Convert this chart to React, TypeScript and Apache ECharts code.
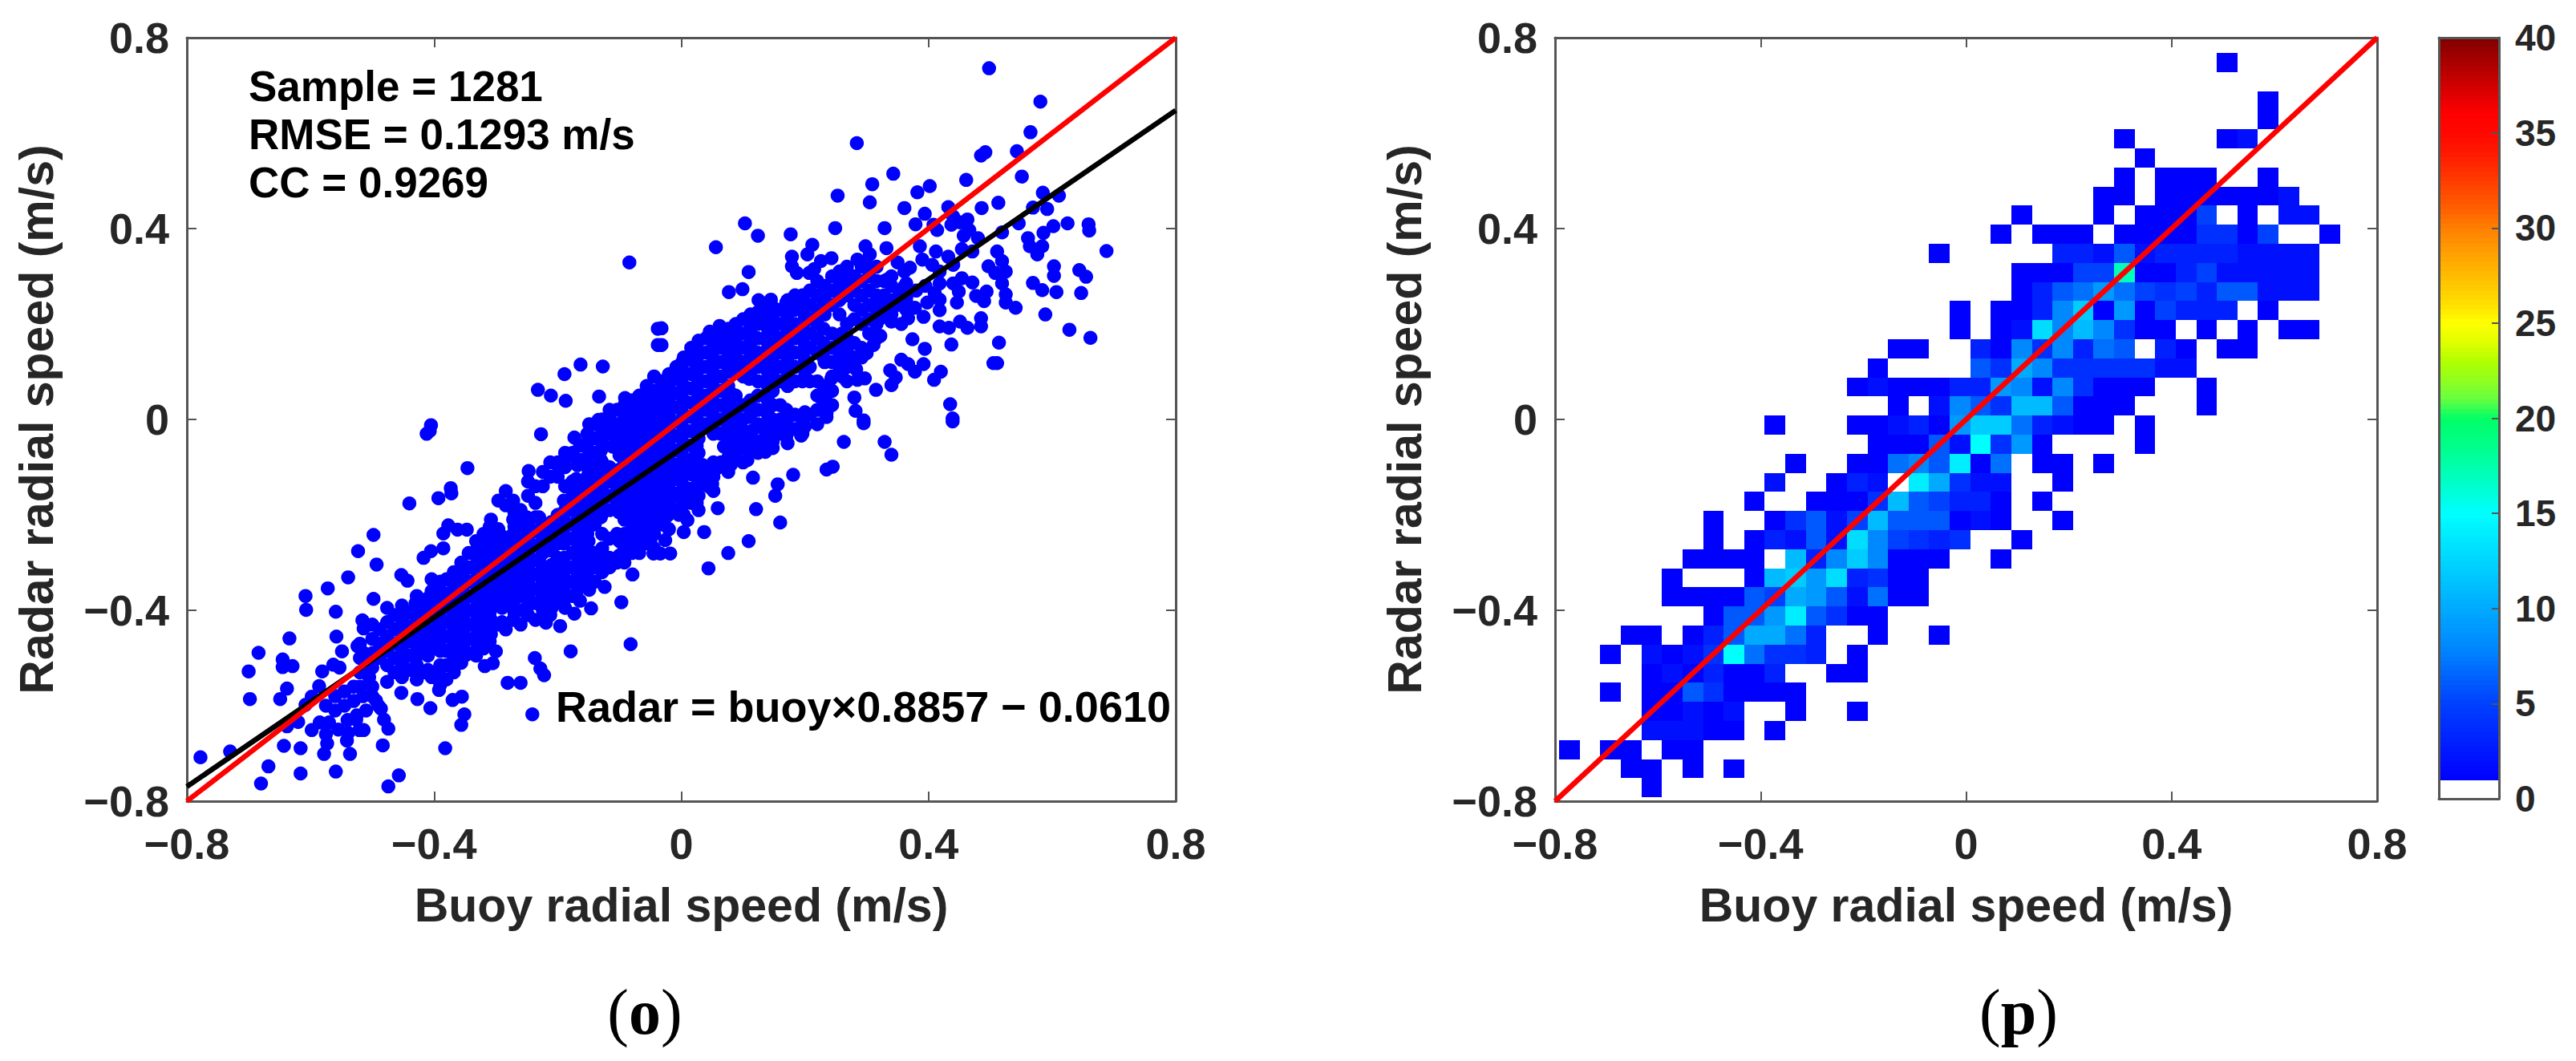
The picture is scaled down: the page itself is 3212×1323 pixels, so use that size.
import React, { useEffect, useRef } from "react";
import * as echarts from "echarts";

// ---------- tick labels / fit lines ----------
const speedTicks = ["−0.8", "−0.4", "0", "0.4", "0.8"];
const colorTicks = [0, 5, 10, 15, 20, 25, 30, 35, 40];
const identityLine = [[-0.8, -0.8], [0.8, 0.8]];
const fitLine = [[-0.8, -0.7696], [0.8, 0.6476]];
const statsLines = ["Sample = 1281", "RMSE = 0.1293 m/s", "CC = 0.9269"];
const fitEquation = "Radar = buoy×0.8857 − 0.0610";

// ---------- left panel: scattered points ----------
const scatterUpper = [
  [-0.084,0.329],[-0.232,0.062],[-0.211,0.05],[-0.187,0.039],[-0.189,0.095],[-0.163,0.115],[-0.127,0.111],[-0.133,0.048],
  [-0.091,0.045],[-0.087,0.021],[-0.074,0.004],[-0.134,-0.001],[-0.149,-0.01],[-0.112,-0.01],[-0.05,0.044],[-0.052,0.021],[-0.042,0.007],
  [-0.038,0.19],[-0.038,0.156],[-0.032,0.191],[-0.032,0.156],
  [0.498,0.736],[0.581,0.666],[0.565,0.602],[0.543,0.562],[0.492,0.56],[0.485,0.553],[0.551,0.509],[0.284,0.579],[0.343,0.515],[0.461,0.502],
  [0.309,0.493],[0.253,0.469],[0.305,0.455],[0.402,0.489],[0.382,0.476],[0.361,0.443],[0.394,0.431],[0.432,0.445],[0.486,0.443],[0.513,0.454],
  [0.585,0.475],[0.611,0.469],[0.592,0.441],[0.569,0.444],[0.546,0.411],[0.625,0.411],[0.602,0.405],[0.659,0.409],[0.66,0.396],[0.688,0.353],
  [0.519,0.392],[0.103,0.411],[0.124,0.385],[0.056,0.361],[0.177,0.388],[0.249,0.401],[0.329,0.401],[0.379,0.409],[0.408,0.408],[0.414,0.397],
  [0.44,0.425],[0.451,0.413],[0.463,0.419],[0.437,0.408],[0.457,0.385],[0.48,0.38],[0.466,0.397],[0.386,0.363],[0.332,0.359],[0.212,0.366],
  [0.298,0.363],[0.305,0.346],[0.285,0.335],[0.3,0.324],[0.243,0.338],[0.226,0.332],[0.215,0.315],[0.204,0.346],[0.179,0.341],[0.179,0.321],
  [0.187,0.307],[0.207,0.307],[0.109,0.309],[0.099,0.273],[0.077,0.267],[0.257,0.31],[0.271,0.299],[0.35,0.329],[0.361,0.31],[0.37,0.318],
  [0.39,0.335],[0.412,0.352],[0.406,0.324],[0.432,0.341],[0.418,0.31],[0.44,0.324],[0.454,0.357],[0.471,0.352],[0.333,0.293],[0.497,0.321],
  [0.511,0.352],[0.519,0.332],[0.525,0.31],[0.508,0.307],[0.519,0.285],[0.561,0.38],[0.564,0.363],[0.586,0.391],[0.584,0.363],[0.576,0.346],
  [0.603,0.321],[0.603,0.301],[0.644,0.313],[0.655,0.299],[0.647,0.265],[0.569,0.286],[0.584,0.271],[0.607,0.267],[0.589,0.22],[0.628,0.188],
  [0.662,0.171],[0.514,0.161],[0.511,0.118],[0.505,0.118],[0.437,0.157],[0.394,0.148],[0.374,0.168],[0.485,0.195],[0.485,0.212],[0.463,0.192],
  [0.451,0.205],[0.433,0.192],[0.418,0.195],[0.541,0.234],[0.525,0.245],[0.525,0.262],[0.494,0.268],[0.477,0.259],[0.49,0.248],[0.471,0.287],
  [0.454,0.296],[0.44,0.285],[0.418,0.285],[0.449,0.268],[0.446,0.245],[0.418,0.251],[0.418,0.229],[0.398,0.245],[0.392,0.215],[0.367,0.212],
  [0.356,0.2],[0.364,0.245],[0.378,0.234],[0.361,0.279],[0.353,0.268],[0.356,0.125],[0.378,0.1],[0.392,0.116],[0.367,0.116],[0.338,0.103],
  [0.347,0.088],[0.34,0.072],[0.315,0.062],[0.42,0.1],[0.409,0.083],[0.297,0.086],[0.285,0.083],[0.283,0.105],[0.28,0.046],[0.282,0.018],
  [0.295,-0.002],[0.435,0.032],[0.439,0.002],[0.235,0.013],[0.233,0.045],[0.243,0.086],[0.322,0.175],[0.311,0.156],[0.3,0.139],[0.322,0.212],
  [0.066,0.161],[0.062,0.196],[0.046,0.184],[0.052,0.119],[0.021,0.121],[0.001,0.119],[-0.003,0.09],[0.125,0.25],[0.145,0.251],[0.148,0.231],
  [0.187,0.248],[0.17,0.245],[0.325,0.25],[0.34,0.205],[0.35,0.24],[0.38,0.27],[0.395,0.28],[0.41,0.265],
];
const scatterLower = [
  [-0.405,-0.012],[-0.407,-0.024],[-0.412,-0.03],[-0.227,-0.031],[-0.173,-0.038],[-0.44,-0.176],[-0.393,-0.165],[-0.373,-0.144],[-0.372,-0.155],
  [-0.346,-0.102],[-0.247,-0.108],[-0.498,-0.242],[-0.523,-0.276],[-0.493,-0.304],[-0.539,-0.331],[-0.572,-0.354],[-0.608,-0.37],[-0.607,-0.399],
  [-0.559,-0.403],[-0.498,-0.376],[-0.453,-0.326],[-0.443,-0.338],[-0.417,-0.29],[-0.405,-0.276],[-0.385,-0.27],[-0.377,-0.222],[-0.385,-0.239],
  [-0.347,-0.231],[-0.362,-0.231],[-0.516,-0.421],[-0.514,-0.438],[-0.558,-0.455],[-0.634,-0.459],[-0.684,-0.489],[-0.7,-0.528],[-0.645,-0.503],
  [-0.645,-0.519],[-0.629,-0.517],[-0.638,-0.564],[-0.649,-0.586],[-0.698,-0.586],[-0.549,-0.486],[-0.524,-0.475],[-0.514,-0.489],[-0.581,-0.528],
  [-0.563,-0.514],[-0.553,-0.52],[-0.586,-0.559],[-0.598,-0.581],[-0.608,-0.598],[-0.62,-0.634],[-0.638,-0.643],[-0.598,-0.651],[-0.643,-0.684],
  [-0.616,-0.689],[-0.578,-0.701],[-0.573,-0.679],[-0.778,-0.708],[-0.73,-0.696],[-0.668,-0.727],[-0.616,-0.742],[-0.559,-0.738],[-0.68,-0.763],
  [-0.457,-0.746],[-0.474,-0.769],[-0.483,-0.683],[-0.382,-0.689],[-0.536,-0.701],[-0.541,-0.673],[-0.539,-0.657],[-0.521,-0.651],[-0.514,-0.651],
  [-0.526,-0.629],[-0.474,-0.648],[-0.481,-0.629],[-0.486,-0.606],[-0.494,-0.589],[-0.453,-0.573],[-0.427,-0.586],[-0.406,-0.605],[-0.392,-0.567],
  [-0.39,-0.556],[-0.37,-0.588],[-0.355,-0.581],[-0.351,-0.618],[-0.356,-0.64],[-0.241,-0.618],[-0.281,-0.552],[-0.26,-0.552],[-0.237,-0.5],
  [-0.228,-0.522],[-0.222,-0.536],[-0.179,-0.486],[-0.082,-0.471],[-0.097,-0.383],[-0.196,-0.433],[-0.219,-0.426],[-0.173,-0.407],[-0.146,-0.396],
  [-0.124,-0.351],[-0.149,-0.357],[-0.156,-0.337],[-0.079,-0.325],[-0.045,-0.281],[-0.3,-0.486],[-0.315,-0.455],[-0.305,-0.511],[-0.318,-0.517],
  [0.295,-0.008],[0.439,-0.004],[0.263,-0.047],[0.329,-0.047],[0.34,-0.074],[0.235,-0.105],[0.245,-0.099],[0.181,-0.116],[0.156,-0.136],[0.152,-0.16],
  [0.116,-0.122],[0.059,-0.186],[0.121,-0.188],[0.16,-0.216],[0.109,-0.255],[0.076,-0.28],[0.044,-0.312],[0.037,-0.236],[0.013,-0.146],[0.01,-0.161],
  [-0.012,-0.161],[0.004,-0.236],[0.01,-0.211],[-0.004,-0.2],[-0.021,-0.2],[-0.035,-0.214],[-0.026,-0.253],[-0.018,-0.281],[-0.034,-0.281],[0.045,-0.141],
  [0.046,-0.113],[0.058,-0.102],[0.035,-0.096],[0.013,-0.091],[0.024,-0.068],[-0.01,-0.108],[-0.021,-0.125],[-0.032,-0.141],[0.084,-0.088],[0.107,-0.085],
  [0.094,-0.057],[0.136,-0.068],[0.069,-0.057],[0.063,-0.029],[0.194,-0.034],[0.17,-0.024],[0.148,-0.046],[0.125,-0.046],[0.114,-0.024],[0.097,-0.018],
  [0.088,-0.007],[0.131,-0.018],[0.156,-0.004],[0.198,-0.001],[0.235,0.005],
  [-0.575,-0.6],[-0.56,-0.58],[-0.56,-0.61],[-0.545,-0.57],[-0.545,-0.6],[-0.54,-0.63],[-0.53,-0.56],[-0.53,-0.59],[-0.525,-0.62],[-0.515,-0.58],
  [-0.57,-0.635],[-0.555,-0.65],[-0.585,-0.635],[-0.575,-0.66],[-0.51,-0.61],[-0.505,-0.54],[-0.49,-0.6],[-0.5,-0.58],[-0.52,-0.56],[-0.52,-0.53],[-0.52,-0.5],[-0.52,-0.47],
  [-0.153,-0.049],[-0.185,-0.079],[-0.198,-0.102],[-0.168,-0.096],[-0.142,-0.113],[-0.111,-0.057],[-0.094,-0.043],[-0.073,-0.043],[-0.086,-0.063],
];
// Dense band, column by column: first number is the buoy speed, the rest radar speeds.
const bandColumns = [
  [-0.5,-0.56,-0.52,-0.49,-0.46,-0.43],[-0.476,-0.55,-0.515,-0.485,-0.455,-0.425,-0.395],[-0.452,-0.54,-0.51,-0.48,-0.45,-0.42,-0.39],
  [-0.428,-0.545,-0.515,-0.485,-0.455,-0.425,-0.395,-0.37],[-0.404,-0.54,-0.48,-0.45,-0.42,-0.39,-0.36,-0.335],[-0.38,-0.545,-0.515,-0.485,-0.455,-0.425,-0.395,-0.365,-0.335],
  [-0.356,-0.51,-0.48,-0.45,-0.42,-0.39,-0.36,-0.33,-0.3],[-0.332,-0.495,-0.465,-0.435,-0.405,-0.375,-0.345,-0.315,-0.285,-0.255],[-0.308,-0.45,-0.42,-0.39,-0.36,-0.33,-0.3,-0.27,-0.24,-0.21],
  [-0.284,-0.44,-0.37,-0.34,-0.31,-0.28,-0.25,-0.18,-0.15],[-0.26,-0.43,-0.4,-0.37,-0.34,-0.31,-0.28,-0.25,-0.22,-0.19],[-0.236,-0.42,-0.385,-0.355,-0.325,-0.295,-0.265,-0.235,-0.205,-0.175,-0.14],
  [-0.212,-0.41,-0.38,-0.35,-0.32,-0.26,-0.23,-0.12,-0.09],[-0.188,-0.395,-0.365,-0.335,-0.305,-0.25,-0.22,-0.19,-0.14,-0.1,-0.07],[-0.164,-0.38,-0.35,-0.32,-0.29,-0.26,-0.23,-0.2,-0.17,-0.14,-0.085,-0.055],
  [-0.14,-0.34,-0.31,-0.28,-0.22,-0.19,-0.16,-0.13,-0.1,-0.07,-0.04,-0.01],[-0.116,-0.31,-0.29,-0.25,-0.19,-0.16,-0.13,-0.1,-0.03,0,0.02],[-0.092,-0.3,-0.27,-0.24,-0.21,-0.18,-0.15,-0.12,-0.09,-0.06,-0.03,0,0.03],
  [-0.068,-0.28,-0.25,-0.22,-0.19,-0.16,-0.13,-0.1,-0.07,-0.04,-0.01,0.02,0.05],[-0.044,-0.27,-0.24,-0.21,-0.18,-0.15,-0.12,-0.09,-0.06,-0.03,0,0.03,0.06,0.09],[-0.02,-0.23,-0.175,-0.145,-0.115,-0.085,-0.055,-0.025,0.005,0.035,0.065,0.095],
  [0.004,-0.2,-0.17,-0.14,-0.11,-0.08,-0.05,-0.02,0.01,0.04,0.07,0.1,0.13],[0.028,-0.19,-0.16,-0.13,-0.1,-0.07,-0.04,-0.01,0.02,0.05,0.08,0.11,0.14,0.165],[0.052,-0.15,-0.12,-0.09,-0.03,0,0.03,0.06,0.09,0.12,0.15,0.18],
  [0.076,-0.11,-0.08,-0.05,-0.02,0.01,0.04,0.07,0.1,0.13,0.16,0.19],[0.1,-0.09,-0.06,-0.03,0,0.03,0.09,0.12,0.15,0.18,0.21],[0.124,-0.07,-0.01,0.02,0.05,0.08,0.11,0.14,0.17,0.2,0.225],
  [0.148,-0.06,-0.03,0,0.03,0.06,0.09,0.12,0.15,0.18,0.21,0.235],[0.172,-0.05,-0.02,0.01,0.07,0.1,0.13,0.16,0.19,0.22,0.25],[0.196,-0.03,0,0.08,0.11,0.14,0.17,0.2,0.23,0.26],
  [0.22,-0.01,0.02,0.05,0.08,0.14,0.17,0.2,0.23,0.26,0.29],[0.244,0.03,0.06,0.09,0.12,0.15,0.18,0.24,0.27,0.3],[0.268,0.08,0.11,0.14,0.17,0.2,0.26,0.29,0.32],
  [0.292,0.13,0.15,0.2,0.23,0.26,0.29,0.32],[0.316,0.17,0.2,0.23,0.26,0.29,0.32],[0.34,0.22,0.25,0.28,0.3],[0.364,0.23,0.255,0.285],
];
// Points between those columns, where the band is solid.
const bandInfill = [
  [-0.488,-0.5,-0.47,-0.44],[-0.464,-0.53,-0.5,-0.47,-0.44,-0.41],[-0.44,-0.525,-0.495,-0.465,-0.435,-0.405],[-0.416,-0.53,-0.47,-0.44,-0.41,-0.38],
  [-0.392,-0.53,-0.47,-0.44,-0.41,-0.38,-0.35],[-0.368,-0.53,-0.5,-0.47,-0.44,-0.41,-0.38,-0.35,-0.32],[-0.344,-0.49,-0.46,-0.43,-0.4,-0.37,-0.34,-0.31,-0.28],
  [-0.32,-0.48,-0.45,-0.42,-0.39,-0.36,-0.33,-0.3,-0.27,-0.24],[-0.296,-0.43,-0.38,-0.35,-0.32,-0.29,-0.26,-0.23,-0.17],[-0.272,-0.42,-0.39,-0.36,-0.33,-0.3,-0.27,-0.24,-0.21,-0.17],
  [-0.248,-0.41,-0.37,-0.34,-0.31,-0.28,-0.25,-0.22,-0.16,-0.13],[-0.224,-0.4,-0.37,-0.34,-0.31,-0.28,-0.25,-0.22,-0.14,-0.11],[-0.2,-0.38,-0.35,-0.32,-0.29,-0.26,-0.23,-0.2,-0.12,-0.09],
  [-0.176,-0.37,-0.34,-0.31,-0.28,-0.25,-0.22,-0.19,-0.16,-0.13,-0.07],[-0.152,-0.33,-0.3,-0.27,-0.24,-0.21,-0.18,-0.15,-0.12,-0.09,-0.06,-0.03],[-0.128,-0.32,-0.27,-0.24,-0.18,-0.15,-0.12,-0.09,-0.05,-0.02,0],
  [-0.104,-0.3,-0.24,-0.18,-0.15,-0.12,-0.03,-0.01,0.02],[-0.08,-0.28,-0.25,-0.22,-0.19,-0.16,-0.13,-0.1,-0.07,-0.04,-0.01,0.02,0.04],[-0.056,-0.26,-0.23,-0.2,-0.17,-0.14,-0.11,-0.08,-0.05,-0.02,0.01,0.04,0.07],
  [-0.032,-0.22,-0.19,-0.16,-0.13,-0.1,-0.07,-0.04,-0.01,0.02,0.05,0.08],[-0.008,-0.19,-0.155,-0.125,-0.095,-0.065,-0.035,-0.005,0.025,0.055,0.085,0.11],[0.016,-0.175,-0.145,-0.115,-0.085,-0.055,-0.025,0.005,0.035,0.065,0.095,0.125,0.15],
  [0.04,-0.13,-0.1,-0.01,0.02,0.05,0.08,0.11,0.14,0.17],[0.064,-0.09,-0.03,0,0.03,0.06,0.09,0.12,0.15,0.18],[0.088,-0.07,-0.04,-0.01,0.02,0.05,0.1,0.13,0.16,0.19,0.2],
  [0.112,-0.05,0.01,0.04,0.1,0.13,0.16,0.19,0.22],[0.136,-0.04,-0.01,0.02,0.05,0.08,0.11,0.14,0.17,0.2,0.23],[0.16,-0.03,0,0.03,0.08,0.11,0.14,0.17,0.2,0.23],
  [0.184,-0.02,0.01,0.08,0.11,0.14,0.17,0.2,0.23,0.26],[0.208,0.01,0.08,0.11,0.15,0.18,0.21,0.24,0.27],[0.232,0.07,0.12,0.15,0.22,0.25,0.28],
  [0.256,0.1,0.13,0.16,0.22,0.25,0.28,0.31],[0.28,0.13,0.16,0.21,0.24,0.27,0.3],[0.304,0.18,0.21,0.24,0.27,0.3],[0.328,0.23,0.26,0.29],
];
// Extra points in the solid core of the band, staggered against the two lists above.
const bandCore = [
  [-0.45,-0.525,-0.5,-0.465,-0.44,-0.405],[-0.43,-0.53,-0.5,-0.47,-0.44,-0.41,-0.385],[-0.41,-0.525,-0.495,-0.465,-0.435,-0.405,-0.375],
  [-0.39,-0.515,-0.485,-0.455,-0.425,-0.395,-0.365,-0.34],[-0.37,-0.515,-0.485,-0.455,-0.425,-0.395,-0.365,-0.335],[-0.35,-0.495,-0.465,-0.435,-0.405,-0.375,-0.345,-0.315],
  [-0.33,-0.48,-0.45,-0.42,-0.39,-0.36,-0.33,-0.3,-0.27],[-0.31,-0.465,-0.435,-0.405,-0.375,-0.345,-0.315,-0.285,-0.255,-0.225],[-0.29,-0.425,-0.395,-0.365,-0.335,-0.305,-0.275,-0.245],
  [-0.27,-0.405,-0.375,-0.345,-0.315,-0.285,-0.255,-0.225,-0.195],[-0.25,-0.395,-0.355,-0.325,-0.295,-0.265,-0.235,-0.205],[-0.23,-0.385,-0.355,-0.325,-0.295,-0.265,-0.235,-0.205],
  [-0.21,-0.395,-0.365,-0.335,-0.305,-0.275,-0.245,-0.215],[-0.19,-0.38,-0.35,-0.32,-0.29,-0.26,-0.23,-0.2,-0.17],[-0.17,-0.365,-0.335,-0.305,-0.275,-0.245,-0.215,-0.185,-0.155,-0.125],
  [-0.15,-0.345,-0.315,-0.285,-0.255,-0.225,-0.195,-0.165,-0.135,-0.105,-0.075],[-0.13,-0.295,-0.205,-0.175,-0.145,-0.115,-0.085,-0.065,-0.035],[-0.1,-0.285,-0.255,-0.195,-0.165,-0.135,-0.105,-0.075,-0.045,-0.015],
  [-0.075,-0.265,-0.235,-0.205,-0.175,-0.145,-0.115,-0.085,-0.055,-0.025,0.005,0.035],[-0.05,-0.255,-0.225,-0.195,-0.165,-0.135,-0.105,-0.075,-0.045,-0.015,0.015,0.045],[-0.025,-0.205,-0.175,-0.15,-0.12,-0.09,-0.06,-0.03,0,0.03,0.06,0.08],
  [0,-0.185,-0.155,-0.125,-0.095,-0.065,-0.035,-0.005,0.025,0.055,0.085,0.115],[0.025,-0.175,-0.145,-0.115,-0.085,-0.055,-0.025,0.005,0.035,0.065,0.095,0.125,0.15],[0.05,-0.135,-0.105,-0.015,0.015,0.045,0.075,0.105,0.135,0.165],
  [0.08,-0.095,-0.065,-0.035,-0.005,0.025,0.055,0.115,0.145,0.175],[0.11,-0.07,-0.045,0.005,0.035,0.085,0.115,0.145,0.175,0.205],[0.14,-0.05,-0.02,0.01,0.04,0.07,0.1,0.13,0.16,0.19,0.22],
  [0.17,-0.035,-0.005,0.02,0.08,0.115,0.145,0.175,0.205,0.235],[0.2,-0.015,0.015,0.09,0.125,0.155,0.185,0.215,0.245],[0.23,0.03,0.06,0.13,0.16,0.19,0.24,0.27],[0.26,0.09,0.12,0.15,0.18,0.27,0.3],
];

// ---------- right panel: density counts ----------
// [rowFromBottom, [firstColumn, count, count, ...], [firstColumn, ...], ...]
const densityRows: any[] = [
  [38,[32,1]],[36,[34,1]],[35,[34,1]],[34,[27,1],[32,1,2]],[33,[28,1]],[32,[27,1],[29,1,1,1],[34,1]],
  [31,[26,1,1],[29,1,1,1,1,1,1,2]],[30,[22,1],[26,1],[28,1,1,1,5],[33,1],[35,2,2]],[29,[21,1],[23,1,1,1],[27,1,1,1,1,4,4,1,5],[37,1]],
  [28,[18,1],[24,3,3,2,6,2,3,3,3,3,2,2,2,2]],[27,[22,1,1,1,5,5,17,1,1,3,5,2,2,2,2,2]],[26,[22,1,3,6,7,9,7,5,4,5,3,6,6,2,2,2]],
  [25,[19,1],[21,1,1,3,8,12,1,9,1,5,3,3,3],[34,1]],[24,[19,1],[21,1,2,13,8,11,8,4,1,1],[31,1],[33,1],[35,1,1]],
  [23,[16,1,1],[20,3,1,8,4,8,3,7,6],[29,3,1],[32,1,1]],[22,[15,1],[20,6,4,10,8,4,4,4,4,4,2,2]],[21,[14,1,2,1,1,1,3,3,9,8,2,8,4,1,1,1],[31,1]],
  [20,[16,1],[18,2,8,6,4,11,11,6,1,1,1],[31,1]],[19,[10,1],[14,1,1,2,3,1,9,12,12,7,3,2,1,1],[28,1]],[18,[15,1,1,1,6,2,15,4,9,1],[28,1]],
  [17,[11,1],[14,1,1,7,8,6,14,1,7],[23,1,1],[26,1]],[16,[10,2],[13,1,3,2],[17,14,10,4,2,2],[24,1]],[15,[9,1],[12,1,1,1,4,11,6,5,3,3,1],[23,1]],
  [14,[7,1],[10,1,4,6,2,5,11,6,6,6,1,2,1],[24,1]],[13,[7,1],[9,1,3,2,6,2,13,8,5,4,3,4],[22,1]],[12,[6,1,1,1,1],[11,11,3,8,12,8,1,1,1],[21,1]],
  [11,[5,1],[9,1,11,12,9,13,3,4,1,1]],[10,[5,1,1,1,1,6,5,10,9,6,2,7,1,1]],[9,[7,1,6,6,9,14,6,4,1,1]],[8,[3,1,1],[6,1,3,6,10,10,7,3],[15,1],[18,1]],
  [7,[2,1],[4,2,1,2,4,15,7,4,4,3],[14,1]],[6,[4,1,2,1,3,1,1,3],[13,1,1]],[5,[2,1],[4,1,1,6,4,1,1,1,1]],[4,[4,1,1,2,1,2],[11,1],[14,1]],
  [3,[4,2,2,2,1,1],[10,1]],[2,[0,1],[2,1,1],[5,1,1]],[1,[3,1,1],[6,1],[8,1]],[0,[4,1]],
];
const binSize = 0.04;
const binOriginX = -0.792;
const binOriginY = -0.792;

// Colour scale, one stop per count from 1 to 40.
const colorStops = [
  "#0000ff","#0010ff","#0020ff","#0030ff","#0040ff","#0058ff","#0070ff","#0088ff","#0099ff","#00aaff",
  "#00bbff","#00ccff","#00ddff","#00eeff","#00ffff","#00ffdd","#00ffbb","#00ff99","#00ff80","#00ff66",
  "#66ff40","#90ff20","#b0ff00","#e0ff00","#ffff00","#ffe000","#ffc800","#ffb000","#ff9800","#ff8000",
  "#ff6000","#ff4800","#ff3000","#ff1800","#ff0800","#ff0000","#e00000","#c00000","#a00000","#800000",
];

const FONT = "'Liberation Sans', Arial, sans-serif";
const INK = "#262626";
const FRAME = "#555555";

const scatterData: number[][] = [...scatterUpper, ...scatterLower];
[...bandColumns, ...bandInfill, ...bandCore].forEach((c) => c.slice(1).forEach((y) => scatterData.push([c[0], y])));

const densityData: number[][] = [];
densityRows.forEach((row) => {
  row.slice(1).forEach((run: number[]) => {
    run.slice(1).forEach((n, i) => {
      densityData.push([binOriginX + (run[0] + i) * binSize, binOriginY + row[0] * binSize, n]);
    });
  });
});

const colorbarData: number[][] = [];
for (let i = 0; i < 160; i++) colorbarData.push([i / 4, (i + 1) / 4, (i + 0.5) / 4]);

const tickText = (v: number) => speedTicks[Math.round((v + 0.8) / 0.4)];

function speedAxis(gridIndex: number, position: string, name?: string, nameGap?: number) {
  const primary = !!name;
  return {
    type: "value", gridIndex, position, min: -0.8, max: 0.8, interval: 0.4,
    name: name ?? "", nameLocation: "middle", nameGap,
    nameTextStyle: { fontFamily: FONT, fontWeight: "bold", fontSize: 59, color: INK },
    axisLine: { show: true, onZero: false, lineStyle: { color: FRAME, width: 3 } },
    axisTick: { show: true, inside: true, length: 12, lineStyle: { color: FRAME, width: 2 } },
    axisLabel: {
      show: primary, formatter: tickText, fontFamily: FONT, fontWeight: "bold", fontSize: 54, color: INK,
      margin: position === "bottom" ? 26 : 22,
    },
    splitLine: { show: false },
  };
}

function cellRenderer(params: any, api: any) {
  const a = api.coord([api.value(0), api.value(1) + binSize]);
  const b = api.coord([api.value(0) + binSize, api.value(1)]);
  const x = Math.round(a[0]);
  const y = Math.round(a[1]);
  return {
    type: "rect",
    shape: { x, y, width: Math.round(b[0]) - x, height: Math.round(b[1]) - y },
    style: { fill: api.visual("color") },
  };
}

function bandRenderer(params: any, api: any) {
  const a = api.coord([0, api.value(1)]);
  const b = api.coord([1, api.value(0)]);
  return {
    type: "rect",
    shape: { x: a[0], y: Math.floor(a[1]), width: b[0] - a[0], height: Math.ceil(b[1]) - Math.floor(a[1]) },
    style: { fill: api.value(2) < 1 ? "#ffffff" : api.visual("color") },
  };
}

export default function App() {
  const ref = useRef<HTMLDivElement>(null);
  useEffect(() => {
    document.body.style.margin = "0";
    const chart = echarts.init(ref.current!, undefined, { renderer: "svg" });
    const statText = (text: string, x: number, y: number, align = "left", size = 53) => ({
      type: "text", z: 20,
      style: { text, x, y, textAlign: align, textVerticalAlign: "middle", fontFamily: FONT, fontWeight: "bold", fontSize: size, fill: "#000" },
    });
    const panelTag = (letter: string, x: number) => ({
      type: "text", z: 20,
      style: {
        text: `{p|(}{b|${letter}}{p|)}`, x, y: 1262, textAlign: "center", textVerticalAlign: "middle",
        rich: {
          p: { fontFamily: "'Liberation Serif', serif", fontSize: 80, fill: "#000" },
          b: { fontFamily: "'Liberation Serif', serif", fontSize: 80, fontWeight: "bold", fill: "#000" },
        },
      },
    });
    const frameAxis = (type: string, position: string) => ({
      type: "value", gridIndex: 2, position, min: 0, max: type === "x" ? 1 : 40, z: 6,
      axisLine: { show: true, onZero: false, lineStyle: { color: FRAME, width: 3 } },
      axisTick: { show: false }, axisLabel: { show: false }, splitLine: { show: false },
    });
    chart.setOption({
      animation: false,
      backgroundColor: "#fff",
      grid: [
        { left: 233, top: 47, width: 1233, height: 952, containLabel: false },
        { left: 1939, top: 47, width: 1025, height: 952, containLabel: false },
        { left: 3041, top: 47, width: 75, height: 949, containLabel: false },
      ],
      xAxis: [
        speedAxis(0, "bottom", "Buoy radial speed (m/s)", 100),
        speedAxis(0, "top"),
        speedAxis(1, "bottom", "Buoy radial speed (m/s)", 100),
        speedAxis(1, "top"),
        frameAxis("x", "bottom"),
        frameAxis("x", "top"),
      ],
      yAxis: [
        speedAxis(0, "left", "Radar radial speed (m/s)", 158),
        speedAxis(0, "right"),
        speedAxis(1, "left", "Radar radial speed (m/s)", 158),
        speedAxis(1, "right"),
        {
          type: "value", gridIndex: 2, position: "right", min: 0, max: 40, interval: 5, z: 6,
          axisLine: { show: true, onZero: false, lineStyle: { color: FRAME, width: 3 } },
          axisTick: { show: true, inside: true, length: 9, lineStyle: { color: FRAME, width: 2 } },
          axisLabel: {
            show: true, margin: 20, fontFamily: FONT, fontWeight: "bold", fontSize: 46, color: INK,
            customValues: colorTicks,
          },
          splitLine: { show: false },
        },
        frameAxis("y", "left"),
      ],
      visualMap: {
        type: "continuous", show: false, min: 1, max: 40, dimension: 2, seriesIndex: [3, 5],
        inRange: { color: colorStops },
      },
      series: [
        {
          type: "scatter", xAxisIndex: 0, yAxisIndex: 0, data: scatterData, symbol: "circle", symbolSize: 17.5,
          itemStyle: { color: "#0000ff", opacity: 1 }, silent: true,
        },
        {
          type: "line", xAxisIndex: 0, yAxisIndex: 0, data: fitLine, showSymbol: false, symbol: "none", z: 3,
          lineStyle: { color: "#000", width: 6.5 },
        },
        {
          type: "line", xAxisIndex: 0, yAxisIndex: 0, data: identityLine, showSymbol: false, symbol: "none", z: 4,
          lineStyle: { color: "#ff0000", width: 6.5 },
        },
        {
          type: "custom", xAxisIndex: 2, yAxisIndex: 2, data: densityData, renderItem: cellRenderer,
          encode: { x: 0, y: 1 }, clip: true, silent: true,
        },
        {
          type: "line", xAxisIndex: 2, yAxisIndex: 2, data: identityLine, showSymbol: false, symbol: "none", z: 4,
          lineStyle: { color: "#ff0000", width: 6.5 },
        },
        {
          type: "custom", xAxisIndex: 4, yAxisIndex: 4, data: colorbarData, renderItem: bandRenderer,
          encode: { y: 0 }, clip: true, silent: true,
        },
      ],
      graphic: [
        statText(statsLines[0], 310, 107),
        statText(statsLines[1], 310, 167),
        statText(statsLines[2], 310, 227),
        statText(fitEquation, 1460, 881, "right", 54),
        panelTag("o", 804),
        panelTag("p", 2517),
      ],
    });
    return () => chart.dispose();
  }, []);
  return <div ref={ref} style={{ position: "absolute", left: 0, top: 0, width: 3212, height: 1323 }} />;
}
